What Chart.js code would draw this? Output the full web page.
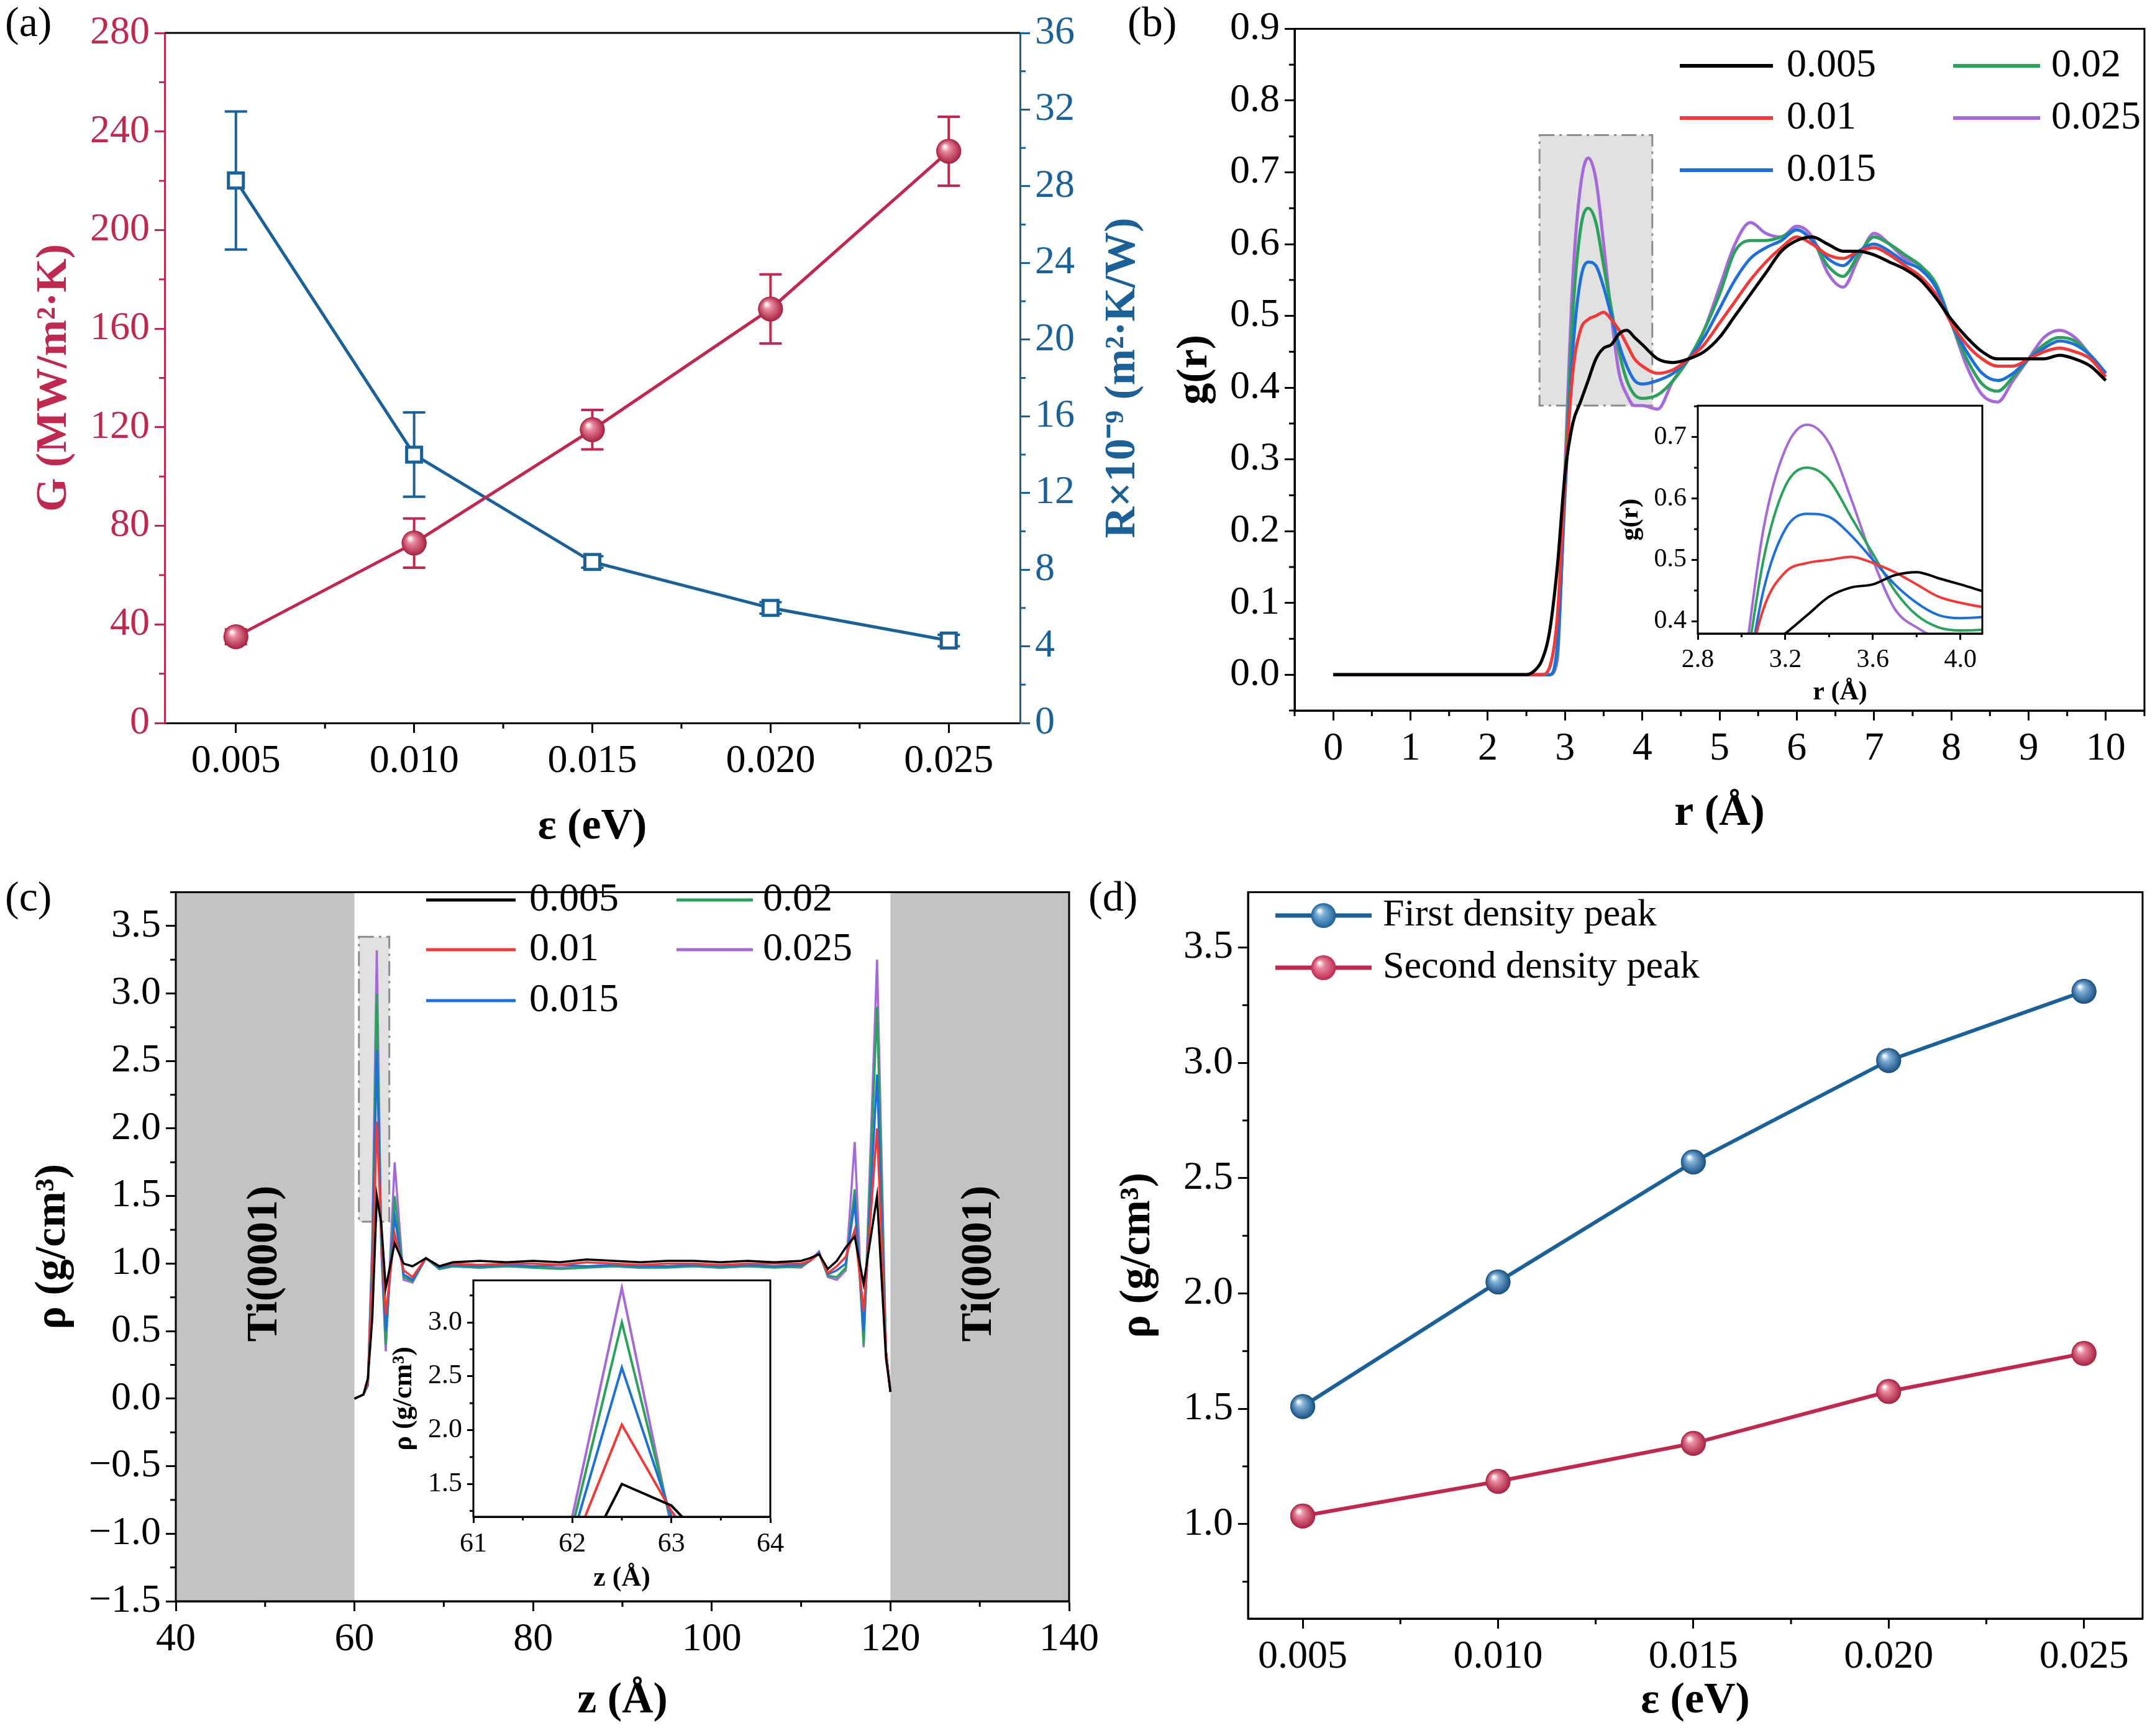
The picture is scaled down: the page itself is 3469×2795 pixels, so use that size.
<!DOCTYPE html>
<html>
<head>
<meta charset="UTF-8">
<script src="https://cdn.jsdelivr.net/npm/chart.js@4.4.0/dist/chart.umd.min.js"></script>
<style>
body{margin:0;padding:0;background:#fff;}
#wrap{position:relative;width:3469px;height:2795px;background:#fff;overflow:hidden;}
canvas{position:absolute;}
.lab{position:absolute;font-family:'Liberation Serif',serif;font-size:68px;color:#000;}
</style>
</head>
<body>
<div id="wrap">
  <div class="lab" style="left:8px;top:-4px">(a)</div>
  <div class="lab" style="left:1815px;top:-4px">(b)</div>
  <div class="lab" style="left:8px;top:1404px">(c)</div>
  <div class="lab" style="left:1752px;top:1404px">(d)</div>
</div>
<script>
// panel (a)
var eps = [0.005, 0.010, 0.015, 0.020, 0.025];
var Gval = [35, 73, 119, 168, 232];
var Gerr = [3, 10, 8, 14, 14];
var Rval = [28.3, 14.0, 8.4, 6.0, 4.3];
var Rerr = [3.6, 2.2, 0.3, 0.3, 0.3];

// panel (b) g(r)
var rB = [0, 2.5, 2.6, 2.7, 2.8, 2.9, 3.0, 3.1, 3.2, 3.3, 3.4, 3.5, 3.6, 3.7, 3.8, 3.9, 4.0,
  4.2, 4.4, 4.6, 4.8, 5.0, 5.2, 5.4, 5.6, 5.8, 6.0, 6.2, 6.4, 6.6, 6.8, 7.0, 7.2, 7.4, 7.6, 7.8,
  8.0, 8.2, 8.4, 8.6, 8.8, 9.0, 9.2, 9.4, 9.6, 9.8, 10.0];
var g005 = [0, 0, 0.005, 0.02, 0.06, 0.15, 0.28, 0.35, 0.38, 0.41, 0.44, 0.455, 0.46, 0.475, 0.48, 0.47, 0.46,
  0.44, 0.435, 0.44, 0.45, 0.47, 0.5, 0.53, 0.56, 0.59, 0.605, 0.61, 0.6, 0.59, 0.59, 0.585, 0.575, 0.565, 0.55, 0.525,
  0.495, 0.47, 0.45, 0.44, 0.44, 0.44, 0.44, 0.445, 0.44, 0.43, 0.41];
var g010 = [0, 0, 0, 0, 0.01, 0.08, 0.27, 0.42, 0.48, 0.495, 0.5, 0.505, 0.495, 0.48, 0.46, 0.44, 0.43,
  0.42, 0.425, 0.44, 0.46, 0.49, 0.52, 0.55, 0.575, 0.595, 0.61, 0.6, 0.585, 0.58, 0.59, 0.595, 0.585, 0.57, 0.555, 0.53,
  0.49, 0.46, 0.44, 0.43, 0.43, 0.44, 0.45, 0.455, 0.45, 0.44, 0.415];
var g015 = [0, 0, 0, 0, 0, 0.04, 0.25, 0.45, 0.55, 0.575, 0.57, 0.54, 0.5, 0.46, 0.43, 0.41, 0.405,
  0.41, 0.42, 0.44, 0.47, 0.51, 0.55, 0.58, 0.595, 0.605, 0.62, 0.605, 0.58, 0.57, 0.59, 0.6, 0.59, 0.575, 0.565, 0.54,
  0.49, 0.45, 0.42, 0.41, 0.42, 0.44, 0.455, 0.465, 0.46, 0.445, 0.42];
var g020 = [0, 0, 0, 0, 0, 0.03, 0.27, 0.5, 0.62, 0.65, 0.63, 0.57, 0.51, 0.45, 0.41, 0.39, 0.385,
  0.39, 0.41, 0.44, 0.48, 0.53, 0.59, 0.605, 0.605, 0.61, 0.62, 0.605, 0.57, 0.555, 0.585, 0.61, 0.6, 0.585, 0.57, 0.545,
  0.49, 0.44, 0.405, 0.395, 0.415, 0.44, 0.46, 0.47, 0.465, 0.445, 0.42];
var g025 = [0, 0, 0, 0, 0, 0.02, 0.29, 0.55, 0.68, 0.72, 0.69, 0.6, 0.5, 0.42, 0.39, 0.375, 0.375,
  0.37, 0.41, 0.44, 0.48, 0.54, 0.6, 0.63, 0.615, 0.61, 0.625, 0.61, 0.56, 0.54, 0.58, 0.615, 0.6, 0.58, 0.57, 0.54,
  0.49, 0.43, 0.39, 0.38, 0.41, 0.44, 0.47, 0.48, 0.47, 0.445, 0.42];

// panel (c) density profile
var zC = [60, 61, 61.5, 62, 62.5, 63, 63.5, 64.5, 65.5, 66.5, 68, 69.5, 71, 74, 77, 80, 83, 86, 89, 92, 95, 98,
  101, 104, 107, 110, 111, 112, 113, 114, 115, 116, 117, 118.5, 119.5, 120];
var d005 = [0, 0.03, 0.15, 0.6, 1.5, 1.3, 0.82, 1.15, 1.0, 0.98, 1.04, 0.98, 1.01, 1.02, 1.01, 1.02, 1.01, 1.03, 1.02, 1.01, 1.02, 1.02,
  1.01, 1.02, 1.01, 1.02, 1.04, 1.07, 0.96, 1.02, 1.12, 1.2, 0.85, 1.5, 0.3, 0.05];
var d010 = [0, 0.03, 0.12, 0.9, 2.05, 1.25, 0.62, 1.22, 0.95, 0.9, 1.04, 0.98, 1.0, 0.99, 1.0, 1.0, 0.99, 1.01, 1.0, 0.99, 1.0, 1.0,
  0.99, 1.0, 1.0, 1.0, 1.02, 1.07, 0.93, 0.98, 1.05, 1.25, 0.65, 2.0, 0.35, 0.05];
var d015 = [0, 0.03, 0.1, 1.0, 2.58, 1.2, 0.5, 1.35, 0.92, 0.88, 1.04, 0.97, 0.99, 0.98, 0.99, 0.98, 0.99, 0.98, 0.99, 0.98, 0.98, 0.99,
  0.98, 0.99, 0.98, 0.99, 1.02, 1.08, 0.92, 0.95, 1.0, 1.45, 0.5, 2.4, 0.35, 0.05];
var d020 = [0, 0.03, 0.1, 1.1, 3.0, 1.15, 0.4, 1.5, 0.9, 0.87, 1.04, 0.96, 0.98, 0.97, 0.98, 0.97, 0.96, 0.97, 0.98, 0.97, 0.97, 0.98,
  0.97, 0.98, 0.97, 0.98, 1.02, 1.08, 0.91, 0.9, 0.97, 1.55, 0.4, 2.9, 0.35, 0.05];
var d025 = [0, 0.03, 0.1, 1.2, 3.32, 1.1, 0.35, 1.75, 0.88, 0.86, 1.04, 0.96, 0.98, 0.97, 0.98, 0.98, 0.97, 0.98, 0.98, 0.97, 0.98, 0.98,
  0.97, 0.98, 0.98, 0.97, 1.02, 1.09, 0.9, 0.88, 0.95, 1.9, 0.38, 3.25, 0.35, 0.05];

// panel (d)
var peak1 = [1.51, 2.05, 2.57, 3.01, 3.31];
var peak2 = [1.035, 1.185, 1.35, 1.575, 1.74];

var seriesNames = ['0.005', '0.01', '0.015', '0.02', '0.025'];
var seriesColors = ['#000000', '#f03a3a', '#1f6fd8', '#2aa25c', '#a66ad8'];
var CRIM = '#c0294f', BLUE = '#1b6197';
var FONT = "'Liberation Serif', 'Times New Roman', serif";

function f(size, bold) { return {family: FONT, size: size, weight: bold ? 'bold' : 'normal'}; }
function fix(arr) { return function (s) { s.ticks = arr.map(function (v) { return {value: v}; }); }; }
function range(a, b, st) { var o = []; for (var v = a; v <= b + 1e-9; v += st) o.push(+v.toFixed(6)); return o; }
function pts(xs, ys) { return xs.map(function (x, i) { return {x: x, y: ys[i]}; }); }

var decoPlugin = {
  id: 'deco',
  beforeDatasetsDraw: function (chart, args, o) {
    var c = chart.ctx, a = chart.chartArea;
    if (o.bg) { c.save(); c.fillStyle = o.bg; c.fillRect(a.left, a.top, a.width, a.height); c.restore(); }
    (o.rects || []).forEach(function (r) {
      var xs = chart.scales.x, ys = chart.scales.y;
      var x0 = xs.getPixelForValue(r.x0), x1 = xs.getPixelForValue(r.x1);
      var y0 = ys.getPixelForValue(r.y0), y1 = ys.getPixelForValue(r.y1);
      c.save(); c.beginPath(); c.rect(a.left, a.top, a.width, a.height); c.clip();
      c.fillStyle = r.fill; c.fillRect(x0, y1, x1 - x0, y0 - y1);
      if (r.stroke) { c.strokeStyle = r.stroke; c.lineWidth = r.lw || 3; c.setLineDash(r.dash || []); c.strokeRect(x0, y1, x1 - x0, y0 - y1); }
      c.restore();
    });
    (o.texts || []).forEach(function (t) {
      var x = chart.scales.x.getPixelForValue(t.x), y = chart.scales.y.getPixelForValue(t.y);
      c.save(); c.translate(x, y); c.rotate(-Math.PI / 2);
      c.font = t.font; c.fillStyle = '#000'; c.textAlign = 'center'; c.textBaseline = 'middle';
      c.fillText(t.text, 0, 0); c.restore();
    });
    (o.errs || []).forEach(function (e) {
      var meta = chart.getDatasetMeta(e.ds), ys = chart.scales[meta.yAxisID];
      c.save(); c.strokeStyle = e.color; c.lineWidth = 4;
      meta.data.forEach(function (p, i) {
        var yt = ys.getPixelForValue(e.val[i] + e.err[i]), yb = ys.getPixelForValue(e.val[i] - e.err[i]);
        c.beginPath(); c.moveTo(p.x, yt); c.lineTo(p.x, yb);
        c.moveTo(p.x - e.cap, yt); c.lineTo(p.x + e.cap, yt);
        c.moveTo(p.x - e.cap, yb); c.lineTo(p.x + e.cap, yb); c.stroke();
      });
      c.restore();
    });
  },
  afterDatasetsDraw: function (chart, args, o) {
    var c = chart.ctx;
    (o.spheres || []).forEach(function (s) {
      var meta = chart.getDatasetMeta(s.ds);
      meta.data.forEach(function (p) {
        var r = s.r;
        var g = c.createRadialGradient(p.x - r * 0.35, p.y - r * 0.4, r * 0.05, p.x, p.y, r);
        g.addColorStop(0, '#ffffff'); g.addColorStop(0.3, s.light); g.addColorStop(1, s.dark);
        c.save(); c.beginPath(); c.arc(p.x, p.y, r, 0, Math.PI * 2); c.fillStyle = g; c.fill(); c.restore();
      });
    });
  },
  afterDraw: function (chart, args, o) {
    var c = chart.ctx, a = chart.chartArea;
    c.save(); c.strokeStyle = '#000'; c.lineWidth = o.fw || 3;
    if (o.frame === 'all') c.strokeRect(a.left, a.top, a.width, a.height);
    if (o.frame === 'top') { c.beginPath(); c.moveTo(a.left, a.top); c.lineTo(a.right, a.top); c.stroke(); }
    c.restore();
    (o.minor || []).forEach(function (m) {
      var s = chart.scales[m.id], t = s.ticks.map(function (k) { return k.value; });
      var st = (t[1] - t[0]) / m.n, vals = [];
      for (var v = t[0] - st * m.n; v <= s.max + 1e-9; v += st) {
        if (v < s.min - 1e-9) continue;
        var isMajor = t.some(function (k) { return Math.abs(k - v) < st * 1e-3; });
        if (!isMajor) vals.push(v);
      }
      c.save(); c.strokeStyle = m.color || '#000'; c.lineWidth = m.w || 3;
      vals.forEach(function (v) {
        var p = s.getPixelForValue(v); c.beginPath();
        if (s.position === 'bottom') { c.moveTo(p, a.bottom); c.lineTo(p, a.bottom + m.len); }
        else if (s.position === 'left') { c.moveTo(a.left, p); c.lineTo(a.left - m.len, p); }
        else { c.moveTo(a.right, p); c.lineTo(a.right + m.len, p); }
        c.stroke();
      });
      c.restore();
    });
    if (o.legend) {
      var L = o.legend;
      c.save(); c.font = L.font; c.textBaseline = 'middle';
      L.items.forEach(function (it) {
        var col = L.cols[it.col], y = L.rows[it.row];
        c.strokeStyle = it.color; c.lineWidth = L.lw;
        c.beginPath(); c.moveTo(col[0], y); c.lineTo(col[1], y); c.stroke();
        if (it.sphere) {
          var r = it.sphere, x = (col[0] + col[1]) / 2;
          var g = c.createRadialGradient(x - r * 0.35, y - r * 0.4, r * 0.05, x, y, r);
          g.addColorStop(0, '#fff'); g.addColorStop(0.3, it.light); g.addColorStop(1, it.color);
          c.beginPath(); c.arc(x, y, r, 0, Math.PI * 2); c.fillStyle = g; c.fill();
        }
        c.fillStyle = '#000'; c.fillText(it.label, col[2], y);
      });
      c.restore();
    }
    if (o.rtitle) {
      var R = o.rtitle;
      c.save(); c.translate(R.x, (a.top + a.bottom) / 2); c.rotate(-Math.PI / 2);
      c.font = R.font; c.fillStyle = R.color; c.textAlign = 'center'; c.textBaseline = 'middle';
      c.fillText(R.text, 0, 0); c.restore();
    }
  }
};
Chart.register(decoPlugin);

function axis(o) {
  var col = o.color || '#000';
  var ax = {
    type: 'linear', position: o.pos, min: o.min, max: o.max,
    afterBuildTicks: fix(o.ticks),
    ticks: {font: f(o.fs || 64), color: col, padding: o.tp || 8, maxRotation: 0, autoSkip: false,
      callback: o.fmt || function (v) { return v; }},
    grid: {display: true, drawOnChartArea: false, drawTicks: true, tickLength: o.tl || 16, tickWidth: 3, color: col},
    border: {display: true, width: 3, color: col},
    title: {display: !!o.title, text: o.title || '', font: f(o.tfs || 70, true), color: col,
      padding: {top: o.tpad || 0, bottom: o.tpad || 0}}
  };
  var size = o.size;
  ax.afterFit = function (s) { if (o.pos === 'bottom') s.height = size; else s.width = size; };
  return ax;
}

function make(L, T, W, H, plot, cfg) {
  var cv = document.createElement('canvas');
  cv.width = W; cv.height = H; cv.style.left = L + 'px'; cv.style.top = T + 'px';
  document.getElementById('wrap').appendChild(cv);
  cfg.options.layout = {padding: {top: plot.t - T, right: plot.rpad, left: 0, bottom: 0}};
  cfg.options.responsive = false; cfg.options.animation = false; cfg.options.devicePixelRatio = 1;
  cfg.options.plugins.legend = {display: false}; cfg.options.plugins.tooltip = {enabled: false};
  return new Chart(cv, cfg);
}

function lineSets(xs, ys, w) {
  return ys.map(function (arr, i) {
    return {data: pts(xs, arr), borderColor: seriesColors[i], borderWidth: w, pointRadius: 0,
      cubicInterpolationMode: 'monotone', fill: false};
  });
}
function straight(sets) { return sets.map(function (d) { d.cubicInterpolationMode = 'default'; d.tension = 0; return d; }); }
function fmt3(v) { return v.toFixed(3); }
function fmt1(v) { return v.toFixed(1); }

function build() {
// ---- (a)
make(0, 0, 1860, 1390, {t: 53, rpad: 0}, {
  type: 'line',
  data: {datasets: [
    {data: pts(eps, Gval), borderColor: CRIM, borderWidth: 5, pointRadius: 20, pointBackgroundColor: CRIM, pointBorderWidth: 0, yAxisID: 'y'},
    {data: pts(eps, Rval), borderColor: BLUE, borderWidth: 5, pointStyle: 'rect', pointRadius: 17, pointBackgroundColor: '#fff',
      pointBorderColor: BLUE, pointBorderWidth: 5, yAxisID: 'y2'}
  ]},
  options: {
    scales: {
      x: axis({pos: 'bottom', min: 0.003, max: 0.027, ticks: eps, fmt: fmt3, size: 226, title: 'ε (eV)', tpad: 16}),
      y: axis({pos: 'left', min: 0, max: 280, ticks: range(0, 280, 40), size: 265, color: CRIM, title: 'G (MW/m²·K)', tpad: 46}),
      y2: axis({pos: 'right', min: 0, max: 36, ticks: range(0, 36, 4), size: 218, color: BLUE})
    },
    plugins: {deco: {
      frame: 'top',
      errs: [{ds: 0, val: Gval, err: Gerr, color: CRIM, cap: 18}, {ds: 1, val: Rval, err: Rerr, color: BLUE, cap: 18}],
      spheres: [{ds: 0, r: 20, light: '#e8889e', dark: '#a8203f'}],
      minor: [{id: 'x', n: 2, len: 9}, {id: 'y', n: 2, len: 9, color: CRIM}, {id: 'y2', n: 2, len: 9, color: BLUE}],
      rtitle: {x: 1808, text: 'R×10⁻⁹ (m²·K/W)', font: 'bold 70px ' + FONT, color: BLUE}
    }}
  }
});

// ---- (b)
make(1860, 0, 1609, 1390, {t: 44, rpad: 17}, {
  type: 'line',
  data: {datasets: lineSets(rB, [g005, g010, g015, g020, g025], 5)},
  options: {
    scales: {
      x: axis({pos: 'bottom', min: -0.5, max: 10.5, ticks: range(0, 10, 1), size: 246, title: 'r (Å)', tpad: 38}),
      y: axis({pos: 'left', min: -0.05, max: 0.9, ticks: range(0, 0.9, 0.1), fmt: fmt1, size: 224, title: 'g(r)', tpad: 22})
    },
    plugins: {deco: {
      frame: 'all',
      rects: [{x0: 2.67, x1: 4.13, y0: 0.375, y1: 0.752, fill: 'rgba(200,200,200,0.55)', stroke: '#8c8c8c', lw: 3, dash: [24, 8, 4, 8]}],
      minor: [{id: 'x', n: 2, len: 9}, {id: 'y', n: 2, len: 9}],
      legend: {font: '64px ' + FONT, lw: 6, rows: [106, 190, 274],
        cols: [[844, 994, 1016], [1284, 1424, 1442]],
        items: seriesNames.map(function (n, i) { return {label: n, color: seriesColors[i], col: i < 3 ? 0 : 1, row: i < 3 ? i : i - 3}; })}
    }}
  }
});

// inset (b)
make(2600, 620, 600, 520, {t: 634, rpad: 9}, {
  type: 'line',
  data: {datasets: lineSets(rB, [g005, g010, g015, g020, g025], 4)},
  options: {
    scales: {
      x: axis({pos: 'bottom', min: 2.8, max: 4.1, ticks: [2.8, 3.2, 3.6, 4.0], fmt: fmt1, size: 120, fs: 42, tfs: 42, tl: 10, title: 'r (Å)', tpad: 0}),
      y: axis({pos: 'left', min: 0.38, max: 0.751, ticks: [0.4, 0.5, 0.6, 0.7], fmt: fmt1, size: 133, fs: 42, tfs: 42, tl: 10, title: 'g(r)', tpad: 0})
    },
    plugins: {deco: {frame: 'all', bg: '#fff', minor: [{id: 'x', n: 2, len: 6}, {id: 'y', n: 2, len: 6}]}}
  }
});

// ---- (c)
make(0, 1390, 1790, 1405, {t: 1394, rpad: 69}, {
  type: 'line',
  data: {datasets: straight(lineSets(zC, [d005, d010, d015, d020, d025], 3.5))},
  options: {
    scales: {
      x: axis({pos: 'bottom', min: 40, max: 140, ticks: range(40, 140, 20), size: 217, title: 'z (Å)', tpad: 14}),
      y: axis({pos: 'left', min: -1.5, max: 3.75, ticks: range(-1.5, 3.5, 0.5), fmt: function (v) { return v < 0 ? '−' + Math.abs(v).toFixed(1) : v.toFixed(1); }, size: 283, title: 'ρ (g/cm³)', tpad: 44})
    },
    plugins: {deco: {
      frame: 'all',
      rects: [{x0: 40, x1: 60, y0: -1.5, y1: 3.75, fill: '#c3c3c3'}, {x0: 120, x1: 140, y0: -1.5, y1: 3.75, fill: '#c3c3c3'},
        {x0: 60.5, x1: 63.9, y0: 1.31, y1: 3.42, fill: 'rgba(200,200,200,0.55)', stroke: '#8c8c8c', lw: 3, dash: [24, 8, 4, 8]}],
      texts: [{x: 50, y: 1.0, text: 'Ti(0001)', font: 'bold 70px ' + FONT}, {x: 130, y: 1.0, text: 'Ti(0001)', font: 'bold 70px ' + FONT}],
      minor: [{id: 'x', n: 2, len: 9}, {id: 'y', n: 2, len: 9}],
      legend: {font: '64px ' + FONT, lw: 5, rows: [59, 139, 221],
        cols: [[686, 830, 852], [1089, 1212, 1228]],
        items: seriesNames.map(function (n, i) { return {label: n, color: seriesColors[i], col: i < 3 ? 0 : 1, row: i < 3 ? i : i - 3}; })}
    }}
  }
});

// inset (c)
make(620, 2027, 650, 543, {t: 2037, rpad: 7}, {
  type: 'line',
  data: {datasets: straight(lineSets(zC, [d005, d010, d015, d020, d025], 4))},
  options: {
    scales: {
      x: axis({pos: 'bottom', min: 61, max: 64, ticks: [61, 62, 63, 64], size: 128, fs: 44, tfs: 44, tl: 10, title: 'z (Å)', tpad: 2}),
      y: axis({pos: 'left', min: 1.196, max: 3.39, ticks: [1.5, 2.0, 2.5, 3.0], fmt: fmt1, size: 142, fs: 44, tfs: 44, tl: 10, title: 'ρ (g/cm³)', tpad: 4})
    },
    plugins: {deco: {frame: 'all', bg: '#fff', minor: [{id: 'x', n: 2, len: 6}, {id: 'y', n: 2, len: 6}]}}
  }
});

// ---- (d)
make(1790, 1390, 1679, 1405, {t: 1394, rpad: 17}, {
  type: 'line',
  data: {datasets: [
    {data: pts(eps, peak1), borderColor: BLUE, borderWidth: 6, pointRadius: 20, pointBackgroundColor: BLUE, pointBorderWidth: 0},
    {data: pts(eps, peak2), borderColor: CRIM, borderWidth: 6, pointRadius: 20, pointBackgroundColor: CRIM, pointBorderWidth: 0}
  ]},
  options: {
    scales: {
      x: axis({pos: 'bottom', min: 0.0036, max: 0.0265, ticks: eps, fmt: fmt3, size: 189, title: 'ε (eV)', tpad: 14}),
      y: axis({pos: 'left', min: 0.59, max: 3.74, ticks: range(1.0, 3.5, 0.5), fmt: fmt1, size: 219, title: 'ρ (g/cm³)', tpad: 0})
    },
    plugins: {deco: {
      frame: 'all',
      spheres: [{ds: 0, r: 20, light: '#7fb0d8', dark: '#174f80'}, {ds: 1, r: 20, light: '#e8889e', dark: '#a8203f'}],
      minor: [{id: 'x', n: 2, len: 9}, {id: 'y', n: 2, len: 9}],
      legend: {font: '62px ' + FONT, lw: 7, rows: [84, 168], cols: [[263, 418, 436]],
        items: [{label: 'First density peak', color: BLUE, light: '#7fb0d8', sphere: 20, col: 0, row: 0},
          {label: 'Second density peak', color: CRIM, light: '#e8889e', sphere: 20, col: 0, row: 1}]}
    }}
  }
});
}

if (document.fonts && document.fonts.load) {
  Promise.all([document.fonts.load('56px "Liberation Serif"'), document.fonts.load('bold 56px "Liberation Serif"')])
    .then(build, build);
} else { build(); }
</script>
</body>
</html>
